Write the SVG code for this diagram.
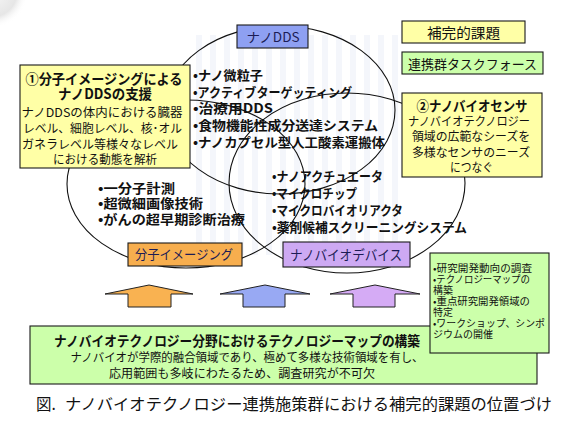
<svg xmlns="http://www.w3.org/2000/svg" width="566" height="423" viewBox="0 0 566 423">
<defs>
<style>
text{font-family:"Noto Sans CJK JP","Noto Sans CJK SC",sans-serif;fill:#111}
.b{font-weight:bold}
.lb{fill:#1c1c55}
.box{stroke:#1a1a1a;stroke-width:1.1}
.yel{fill:#FFFFA6}
.grn{fill:#CCFFAA}
.ell{fill:none;stroke:#111;stroke-width:1.1}
.arr{stroke:#222;stroke-width:1}
.m{text-anchor:middle}
.s{font-size:10px}
</style>
<pattern id="stripes" x="0" y="0" width="14" height="10" patternUnits="userSpaceOnUse">
<rect x="0" y="0" width="6" height="10" fill="#E4E9F6"/>
</pattern>
<radialGradient id="blob" cx="0.3" cy="0.3" r="0.7">
<stop offset="0" stop-color="#f8f8f8"/>
<stop offset="0.7" stop-color="#e6e6e6"/>
<stop offset="1" stop-color="#ffffff" stop-opacity="0"/>
</radialGradient>
</defs>
<rect width="566" height="423" fill="#ffffff"/>
<circle cx="2" cy="2" r="26" fill="url(#blob)"/>
<rect x="192" y="35" width="206" height="220" fill="url(#stripes)" opacity="0.4"/>

<g id="connectors">
<ellipse id="ellipse-dds" class="ell" cx="280" cy="110" rx="115" ry="84"/>
<ellipse id="ellipse-imaging" class="ell" cx="186" cy="184" rx="119" ry="84"/>
<ellipse id="ellipse-device" class="ell" cx="347" cy="183" rx="118" ry="90"/>
</g>

<g id="list-dds">
<text class="b" x="193" y="80" font-size="13" textLength="70" lengthAdjust="spacingAndGlyphs">•ナノ微粒子</text>
<text class="b" x="193" y="97" font-size="13" textLength="159" lengthAdjust="spacingAndGlyphs">•アクティブターゲッティング</text>
<text class="b" x="193" y="113" font-size="13" textLength="80" lengthAdjust="spacingAndGlyphs">•治療用DDS</text>
<text class="b" x="193" y="130" font-size="13" textLength="185" lengthAdjust="spacingAndGlyphs">•食物機能性成分送達システム</text>
<text class="b" x="193" y="147" font-size="13" textLength="192" lengthAdjust="spacingAndGlyphs">•ナノカプセル型人工酸素運搬体</text>
</g>

<g id="list-imaging">
<text class="b" x="98" y="193" font-size="13" textLength="77" lengthAdjust="spacingAndGlyphs">•一分子計測</text>
<text class="b" x="98" y="208" font-size="13" textLength="105" lengthAdjust="spacingAndGlyphs">•超微細画像技術</text>
<text class="b" x="98" y="224" font-size="13" textLength="147" lengthAdjust="spacingAndGlyphs">•がんの超早期診断治療</text>
</g>

<g id="list-device">
<text class="b" x="272" y="181" font-size="13" textLength="111" lengthAdjust="spacingAndGlyphs">•ナノアクチュエータ</text>
<text class="b" x="272" y="198" font-size="13" textLength="85" lengthAdjust="spacingAndGlyphs">•マイクロチップ</text>
<text class="b" x="272" y="215" font-size="13" textLength="131" lengthAdjust="spacingAndGlyphs">•マイクロバイオリアクタ</text>
<text class="b" x="272" y="232" font-size="13" textLength="195" lengthAdjust="spacingAndGlyphs">•薬剤候補スクリーニングシステム</text>
</g>

<g id="label-dds">
<rect class="box" x="237" y="25" width="71" height="23" fill="#8EA0F2"/>
<text class="lb m" x="273" y="42" font-size="13" textLength="53" lengthAdjust="spacingAndGlyphs">ナノDDS</text>
</g>

<g id="label-imaging">
<rect class="box" x="128" y="243" width="114" height="23" fill="#F7AE4E"/>
<text class="lb m" x="184" y="259" font-size="13" textLength="98" lengthAdjust="spacingAndGlyphs">分子イメージング</text>
</g>

<g id="label-device">
<rect class="box" x="283" y="242" width="127" height="25" fill="#CDA9F3"/>
<text class="lb m" x="346" y="260" font-size="14" textLength="112" lengthAdjust="spacingAndGlyphs">ナノバイオデバイス</text>
</g>

<g id="box-support">
<rect class="box yel" x="20" y="65" width="170" height="103"/>
<text class="b m" x="104" y="84" font-size="14" textLength="157" lengthAdjust="spacingAndGlyphs">①分子イメージングによる</text>
<text class="b m" x="105" y="99" font-size="14" textLength="94" lengthAdjust="spacingAndGlyphs">ナノDDSの支援</text>
<text class="m" x="102" y="117" font-size="12" textLength="161" lengthAdjust="spacingAndGlyphs">ナノDDSの体内における臓器</text>
<text class="m" x="102.5" y="133" font-size="12" textLength="159" lengthAdjust="spacingAndGlyphs">レベル、細胞レベル、核･オル</text>
<text class="m" x="100" y="149" font-size="12" textLength="156" lengthAdjust="spacingAndGlyphs">ガネラレベル等様々なレベル</text>
<text class="m" x="105" y="164" font-size="12" textLength="104" lengthAdjust="spacingAndGlyphs">における動態を解析</text>
</g>

<g id="legend-complement">
<rect class="box yel" x="402" y="21" width="123" height="22"/>
<text class="m" x="463.5" y="38" font-size="14" textLength="73" lengthAdjust="spacingAndGlyphs">補完的課題</text>
</g>

<g id="legend-taskforce">
<rect class="box grn" x="402" y="52" width="141" height="22"/>
<text class="m" x="472.5" y="69" font-size="13" textLength="129" lengthAdjust="spacingAndGlyphs">連携群タスクフォース</text>
</g>

<g id="box-sensor">
<rect class="box yel" x="402" y="93" width="140" height="84"/>
<text class="b m" x="472" y="111" font-size="14" textLength="111" lengthAdjust="spacingAndGlyphs">②ナノバイオセンサ</text>
<text class="m" x="469" y="126" font-size="12" textLength="122" lengthAdjust="spacingAndGlyphs">ナノバイオテクノロジー</text>
<text class="m" x="471" y="141" font-size="12" textLength="118" lengthAdjust="spacingAndGlyphs">領域の広範なシーズを</text>
<text class="m" x="471" y="157" font-size="12" textLength="118" lengthAdjust="spacingAndGlyphs">多様なセンサのニーズ</text>
<text class="m" x="471.5" y="172" font-size="12" textLength="43" lengthAdjust="spacingAndGlyphs">につなぐ</text>
</g>

<g id="arrow-imaging">
<polygon class="arr" fill="#F9B251" points="105,294 149,285 193,294 171,294 171,307 128,307 128,294"/>
</g>
<g id="arrow-dds">
<polygon class="arr" fill="#98A9F3" points="220,294 265,285 310,294 285,294 285,307 243,307 243,294"/>
</g>
<g id="arrow-device">
<polygon class="arr" fill="#D5ABF5" points="330,294 375,285 420,294 395,294 395,307 353,307 353,294"/>
</g>

<g id="box-techmap">
<rect class="box grn" x="30" y="326" width="507" height="58"/>
<text class="b m" x="237" y="346" font-size="14" textLength="366" lengthAdjust="spacingAndGlyphs">ナノバイオテクノロジー分野におけるテクノロジーマップの構築</text>
<text class="m" x="247" y="362" font-size="12" textLength="353" lengthAdjust="spacingAndGlyphs">ナノバイオが学際的融合領域であり、極めて多様な技術領域を有し、</text>
<text class="m" x="242" y="378" font-size="12" textLength="266" lengthAdjust="spacingAndGlyphs">応用範囲も多岐にわたるため、調査研究が不可欠</text>
</g>

<g id="box-tasks">
<rect class="box grn" x="430" y="253" width="119" height="100"/>
<text class="s" x="433" y="272" textLength="99" lengthAdjust="spacingAndGlyphs">•研究開発動向の調査</text>
<text class="s" x="433" y="283" textLength="97" lengthAdjust="spacingAndGlyphs">•テクノロジーマップの</text>
<text class="s" x="433" y="294">構築</text>
<text class="s" x="433" y="305" textLength="97" lengthAdjust="spacingAndGlyphs">•重点研究開発領域の</text>
<text class="s" x="433" y="316">特定</text>
<text class="s" x="433" y="327" textLength="112" lengthAdjust="spacingAndGlyphs">•ワークショップ、シンポ</text>
<text class="s" x="433" y="338">ジウムの開催</text>
</g>

<g id="caption">
<text x="36" y="410" font-size="15.5" fill="#222">図.</text>
<text x="65" y="410" font-size="15.5" fill="#222" textLength="487" lengthAdjust="spacingAndGlyphs">ナノバイオテクノロジー連携施策群における補完的課題の位置づけ</text>
</g>
</svg>
